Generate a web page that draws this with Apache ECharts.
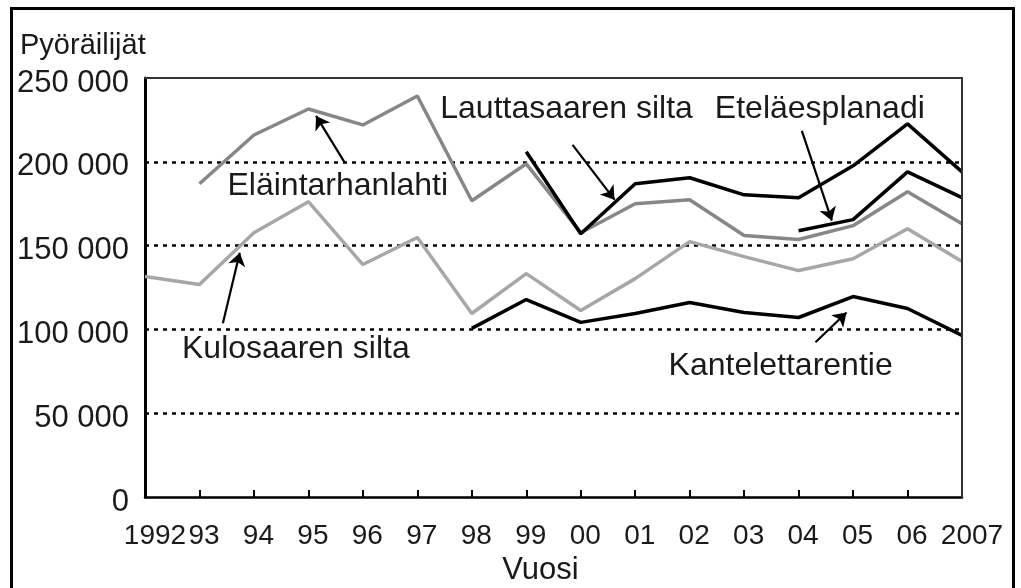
<!DOCTYPE html>
<html>
<head>
<meta charset="utf-8">
<script src="https://cdn.jsdelivr.net/npm/echarts@6/dist/echarts.min.js"></script>
<style>
    html, body {margin: 0; padding: 0; background: #ffffff;}
    #yearChart {width: 1021px; height: 588px;}
</style>
</head>
<body>
<div id="yearChart"></div>
<script>
// vuodet 1992..2007
var years = [1992, 1993, 1994, 1995, 1996, 1997, 1998, 1999, 2000, 2001, 2002, 2003, 2004, 2005, 2006, 2007];

var kulosaari = [131500, 126800, 157700, 176200, 138700, 154800, 109500, 133300, 111300, 130300, 152400, 143400, 135100, 142200, 160100, 140500];
var elaintarha = [null, 186900, 216000, 231500, 222000, 239300, 176800, 198800, 157700, 175000, 177400, 156000, 153600, 161900, 182100, 163100];
var lauttasaari = [null, null, null, null, null, null, null, 206000, 157100, 186900, 190500, 180300, 178600, 197600, 222600, 194000];
var esplanadi = [null, null, null, null, null, null, null, null, null, null, null, null, 158900, 165500, 194000, 178600];
var kantelettarentie = [null, null, null, null, null, null, 100600, 117800, 104200, 109500, 116100, 110100, 107100, 119600, 112500, 96400];

// nimet ja nuolet (tekstin keskikohta / nuolen häntä -> kärki)
var labelNames = ['Eläintarhanlahti', 'Kulosaaren silta', 'Lauttasaaren silta', 'Eteläesplanadi', 'Kantelettarentie'];
var labelPos = [[1995.54, 185700], [1994.77, 88100], [1999.74, 231500], [2004.39, 231500], [2003.67, 78000]];
var arrowFrom = [[1995.67, 199400], [1993.43, 103600], [1999.85, 210100], [2004.06, 218400], [2004.31, 92300]];
var arrowTo = [[1995.14, 227400], [1993.74, 145800], [2000.62, 177400], [2004.61, 164900], [2004.88, 110100]];

var FONT = '"Liberation Sans", Arial, sans-serif';
var NARROW = '"Liberation Sans Narrow", "Arial Narrow", "Liberation Sans", sans-serif';

function pairs(arr) {
    return years.map(function (y, i) { return [y, arr[i]]; });
}

function lineSeries(name, arr, color) {
    return {
        name: name,
        type: 'line',
        data: pairs(arr),
        symbol: 'none',
        connectNulls: false,
        lineStyle: {color: color, width: 3.5},
        itemStyle: {color: color},
        silent: true,
        z: 2
    };
}

var myChart = echarts.init(document.getElementById('yearChart'));

var series = [
    lineSeries('Kulosaaren silta', kulosaari, '#a7a7a7'),
    lineSeries('Eläintarhanlahti', elaintarha, '#878787'),
    lineSeries('Kantelettarentie', kantelettarentie, '#000000'),
    lineSeries('Lauttasaaren silta', lauttasaari, '#000000'),
    lineSeries('Eteläesplanadi', esplanadi, '#000000')
];

series[2].markLine = {
    silent: true,
    symbol: ['none', 'arrow'],
    symbolSize: 13,
    label: {show: false},
    lineStyle: {color: '#000000', width: 2.2, type: 'solid'},
    emphasis: {disabled: true},
    data: arrowFrom.map(function (p, i) {
        return [{coord: p}, {coord: arrowTo[i]}];
    })
};

series[2].markPoint = {
    silent: true,
    symbol: 'circle',
    symbolSize: 0,
    label: {
        show: true,
        position: 'inside',
        formatter: '{b}',
        color: '#1a1a1a',
        fontSize: 32,
        fontFamily: FONT
    },
    data: labelNames.map(function (n, i) {
        return {name: n, coord: labelPos[i]};
    })
};

var option = {
    animation: false,
    backgroundColor: '#ffffff',
    grid: {left: 145, right: 59, top: 78, bottom: 91, containLabel: false, outerBoundsMode: 'none'},
    graphic: [
        {
            type: 'rect',
            shape: {x: 11.5, y: 8.5, width: 1002, height: 620},
            style: {fill: 'none', stroke: '#000000', lineWidth: 3},
            silent: true
        },
        {
            type: 'text',
            left: 20,
            top: 31,
            style: {text: 'Pyöräilijät', fontSize: 29, fontFamily: FONT, fill: '#1a1a1a'},
            silent: true
        }
    ],
    xAxis: [
        {
            type: 'value',
            min: 1992,
            max: 2007,
            interval: 1,
            name: 'Vuosi',
            nameLocation: 'middle',
            nameGap: 54,
            nameTextStyle: {fontSize: 31, fontFamily: FONT, color: '#1a1a1a', padding: [0, 26, 0, 0]},
            axisLine: {show: true, lineStyle: {color: '#000000', width: 2.5}},
            axisTick: {show: true, inside: true, length: 7, lineStyle: {color: '#000000', width: 2}},
            splitLine: {show: false},
            axisLabel: {
                margin: 25,
                fontSize: 28,
                fontFamily: NARROW,
                color: '#1a1a1a',
                showMinLabel: true,
                showMaxLabel: true,
                hideOverlap: false,
                formatter: function (v) {
                    if (v === 1992 || v === 2007) return '{w|' + v + '}';
                    return '{n|' + String(v).slice(2) + '}';
                },
                rich: {
                    w: {fontSize: 28, fontFamily: NARROW, color: '#1a1a1a', padding: [0, 0, 0, 20]},
                    n: {fontSize: 28, fontFamily: NARROW, color: '#1a1a1a', padding: [0, 0, 0, 9]}
                }
            },
            z: 3
        },
        {
            type: 'value',
            position: 'top',
            min: 1992,
            max: 2007,
            axisLine: {show: true, onZero: false, lineStyle: {color: '#333333', width: 2}},
            axisTick: {show: false},
            axisLabel: {show: false},
            splitLine: {show: false},
            z: 4
        }
    ],
    yAxis: [
        {
            type: 'value',
            min: 0,
            max: 250000,
            interval: 50000,
            axisLine: {show: true, lineStyle: {color: '#000000', width: 3}},
            axisTick: {show: false},
            axisLabel: {
                margin: 16,
                color: '#1a1a1a',
                showMinLabel: true,
                showMaxLabel: true,
                hideOverlap: false,
                formatter: function (v) {
                    var s = v === 0 ? '0' : String(v).replace(/\B(?=(\d{3})+(?!\d))/g, ' ');
                    return '{t|' + s + '}';
                },
                rich: {
                    t: {fontSize: 31, fontFamily: FONT, color: '#1a1a1a', padding: [10, 0, 0, 0]}
                }
            },
            splitLine: {
                show: true,
                showMinLine: false,
                showMaxLine: false,
                lineStyle: {color: '#000000', width: 2.5, type: [4, 5]}
            },
            z: 1
        },
        {
            type: 'value',
            position: 'right',
            min: 0,
            max: 250000,
            axisLine: {show: true, onZero: false, lineStyle: {color: '#333333', width: 2}},
            axisTick: {show: false},
            axisLabel: {show: false},
            splitLine: {show: false},
            z: 4
        }
    ],
    series: series
};

if (option && typeof option === 'object') {
    myChart.setOption(option, true);
}
</script>
</body>
</html>
